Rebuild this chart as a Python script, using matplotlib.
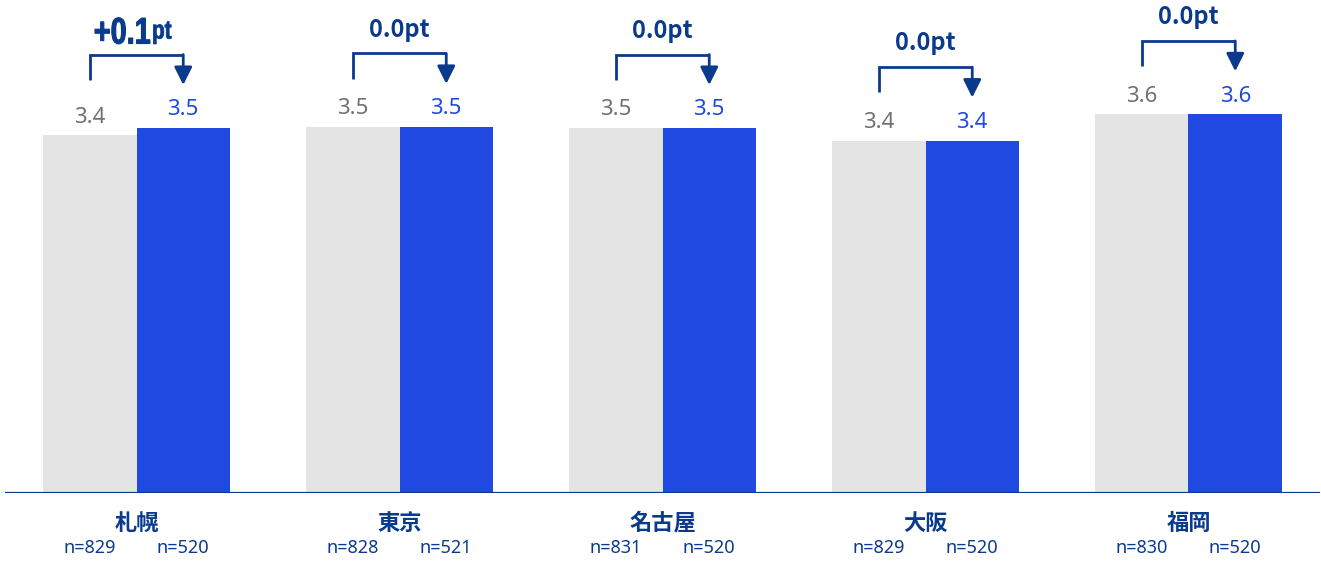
import numpy as np
import matplotlib
matplotlib.use('agg')
import matplotlib.pyplot as plt
from matplotlib.textpath import TextPath
from matplotlib.patches import PathPatch
from matplotlib.font_manager import FontProperties
from matplotlib.transforms import Affine2D

# data
cities = ['札幌', '東京', '名古屋', '大阪', '福岡']
prev_vals = [3.41, 3.49, 3.48, 3.36, 3.61]
curr_vals = [3.48, 3.49, 3.48, 3.36, 3.61]
prev_n = [829, 828, 831, 829, 830]
curr_n = [520, 521, 520, 520, 520]

gray = '#e4e4e4'
blue = '#1f49e0'
navy = '#0a3a8c'
gray_txt = '#707070'
num_font = ['Noto Sans', 'DejaVu Sans']
jp_font = ['Noto Sans CJK JP', 'DejaVu Sans']
bold_prop = FontProperties(family='Liberation Sans', weight='bold')

fig = plt.figure(figsize=(13.21, 5.62), dpi=100)
ax = fig.add_axes([5 / 1321, 69 / 562, 1315 / 1321, 493 / 562])
ax.set_xlim(-0.5, 4.5)
ax.set_ylim(0, 4.7)
ax.axis('off')

x = np.arange(len(cities))
w = 0.3555
xg = x - w / 2
xb = x + w / 2
ax.bar(xg, prev_vals, w, color=gray, zorder=2)
ax.bar(xb, curr_vals, w, color=blue, zorder=2)
ax.axhline(0, color=navy, lw=1.6, zorder=3)


def condensed_label(xc, yb, big, small):
    # tall, narrow "+0.1pt" style label drawn as glyph paths (pixels)
    p1 = TextPath((0, 0), big, size=37, prop=bold_prop)
    p2 = TextPath((0, 0), small, size=26, prop=bold_prop)
    sx1, sx2 = 0.78, 0.8
    w1 = p1.get_extents().x1 * sx1
    w2 = p2.get_extents().x1 * sx2
    px, py = ax.transData.transform((xc, yb))
    left = px - (w1 + w2 + 2) / 2
    t1 = Affine2D().scale(sx1, 1).translate(left, py)
    t2 = Affine2D().scale(sx2, 1).translate(left + w1 + 2, py + 5)
    ax.add_artist(PathPatch(p1, transform=t1, fc=navy, ec=navy, lw=0.8))
    ax.add_artist(PathPatch(p2, transform=t2, fc=navy, ec=navy, lw=0.6))


for i in range(len(cities)):
    g, b = prev_vals[i], curr_vals[i]
    ax.text(xg[i], g + 0.12, f'{g:.1f}', ha='center', va='baseline',
            fontsize=16, color=gray_txt, family=num_font)
    ax.text(xb[i], b + 0.12, f'{b:.1f}', ha='center', va='baseline',
            fontsize=16, color=blue, family=num_font)

    # bracket with arrow
    top = max(g, b)
    y_top = top + 0.70
    y_left = top + 0.46
    y_tip = top + 0.41
    ax.plot([xg[i], xg[i], xb[i]], [y_left, y_top, y_top], color=navy,
            lw=2, solid_capstyle='butt', solid_joinstyle='miter')
    ax.annotate('', xy=(xb[i], y_tip), xytext=(xb[i], y_top),
                arrowprops=dict(arrowstyle='-|>,head_length=0.9,head_width=0.45',
                                color=navy, lw=2, shrinkA=0, shrinkB=0,
                                mutation_scale=12))

    d = round(b - g, 1)
    if d != 0:
        condensed_label(x[i] - 0.015, y_top + 0.105, f'{d:+.1f}', 'pt')
    else:
        ax.text(x[i], y_top + 0.16, f'{abs(d):.1f}pt', ha='center',
                va='baseline', fontsize=17, fontweight='bold', color=navy,
                family=jp_font)

    # category labels under the axis
    ax.text(x[i], -0.29, cities[i], ha='center', va='center', fontsize=16,
            fontweight='bold', color=navy, family=jp_font, clip_on=False)
    ax.text(xg[i], -0.52, f'n={prev_n[i]}', ha='center', va='center',
            fontsize=13, color=navy, family=num_font, clip_on=False)
    ax.text(xb[i], -0.52, f'n={curr_n[i]}', ha='center', va='center',
            fontsize=13, color=navy, family=num_font, clip_on=False)

fig.savefig('out.png', dpi=100)
